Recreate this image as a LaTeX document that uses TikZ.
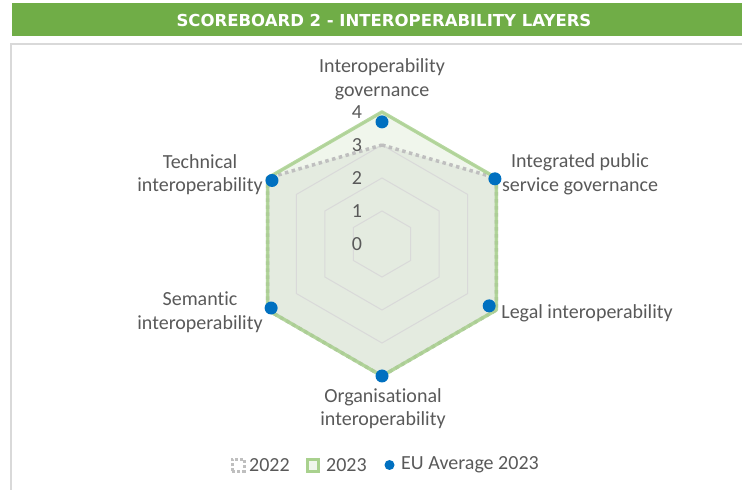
\documentclass[tikz,border=0pt]{standalone}
\usepackage{fontspec}
\setmainfont[Ligatures=NoCommon]{Carlito}
\newfontfamily\titlefont{DejaVu Sans}
\usepackage{tikz}
\usetikzlibrary{positioning}
\definecolor{bannergreen}{RGB}{112,173,71}
\definecolor{framegrey}{RGB}{217,217,217}
\definecolor{gridgrey}{RGB}{217,217,217}
\definecolor{textgrey}{RGB}{89,89,89}
\definecolor{green23}{RGB}{169,209,142}
\definecolor{grey22}{RGB}{191,191,191}
\definecolor{fill23}{RGB}{240,246,236}
\definecolor{fill22}{RGB}{228,235,224}
\definecolor{eublue}{RGB}{0,112,192}
\newcommand{\hexpath}[1]{(90:#1) -- (30:#1) -- (-30:#1) -- (-90:#1) -- (-150:#1) -- (150:#1) -- cycle}
\tikzset{
  axislabel/.style={text=textgrey, font=\fontsize{20}{23.5}\selectfont, align=center, inner sep=0pt},
  ticklabel/.style={text=textgrey, font=\fontsize{20}{23.5}\selectfont, inner sep=0pt},
  gridline/.style={draw=gridgrey, line width=1pt},
  series22/.style={draw=grey22, line width=3.5pt, dash pattern=on 3.5pt off 3.5pt},
  series23/.style={draw=green23, draw opacity=0.85, line width=3.5pt, line join=round},
  eudot/.style={fill=eublue},
}
\begin{document}
\begin{tikzpicture}[x=1pt,y=1pt]
    \useasboundingbox (0,0) rectangle (742,490);
    % Title banner and frame
    \fill[bannergreen] (12,454) rectangle (742,487);
    \node[text=white, font=\titlefont\bfseries\fontsize{16.5}{18}\selectfont] (title) at (384,470) {SCOREBOARD 2 - INTEROPERABILITY LAYERS};
    \draw[framegrey, line width=2pt] (11,0) -- (11,446) -- (742,446);
    % Radar
    \begin{scope}[shift={(382pt,246pt)}, x=33pt, y=33pt]
    \fill[fill23] \hexpath{4};
    \fill[fill22] (90:3) -- (30:4) -- (-30:4) -- (-90:4) -- (-150:4) -- (150:4) -- cycle;
    \foreach \r in {1,2,3,4}
        \draw[gridline] \hexpath{\r};
    \draw[series22] (90:3) -- (30:4) -- (-30:4) -- (-90:4) -- (-150:4) -- (150:4) -- cycle;
    \draw[series23] \hexpath{4};
    \fill[eudot] (90:3.7) circle[radius=6.5pt];
    \fill[eudot] (30:3.95) circle[radius=6.5pt];
    \fill[eudot] (-30:3.75) circle[radius=6.5pt];
    \fill[eudot] (-90:4) circle[radius=6.5pt];
    \fill[eudot] (-150:3.88) circle[radius=6.5pt];
    \fill[eudot] (150:3.85) circle[radius=6.5pt];
    \foreach \k in {0,1,2,3,4}
        \node[ticklabel] (tick\k) at ([xshift=-25pt]0,\k) {\k};
    \end{scope}
    % Axis labels
    \node[axislabel] (governance) at (382,410.5) {Interoperability\\governance};
    \node[axislabel] (integrated) at (580,315.5) {Integrated public\\service governance};
    \node[axislabel] (legal) at (587,177) {Legal interoperability};
    \node[axislabel] (organisational) at (383,81.5) {Organisational\\interoperability};
    \node[axislabel] (semantic) at (200,178) {Semantic\\interoperability};
    \node[axislabel] (technical) at (200,315.5) {Technical\\interoperability};
    % Legend
    \draw[grey22, line width=3pt, dash pattern=on 3pt off 2pt] (232,18.5) rectangle (244,30.5);
    \node[ticklabel, anchor=west] (leg22) at (249,25) {2022};
    \draw[green23, line width=3pt, fill=fill23] (307.5,18.5) rectangle (318.5,30.5);
    \node[ticklabel, anchor=west] (leg23) at (326,25) {2023};
    \fill[eudot] (389.5,25) circle[radius=5pt];
    \node[ticklabel, anchor=west] (legeu) at (401,25) {EU Average 2023};
\end{tikzpicture}
\end{document}
